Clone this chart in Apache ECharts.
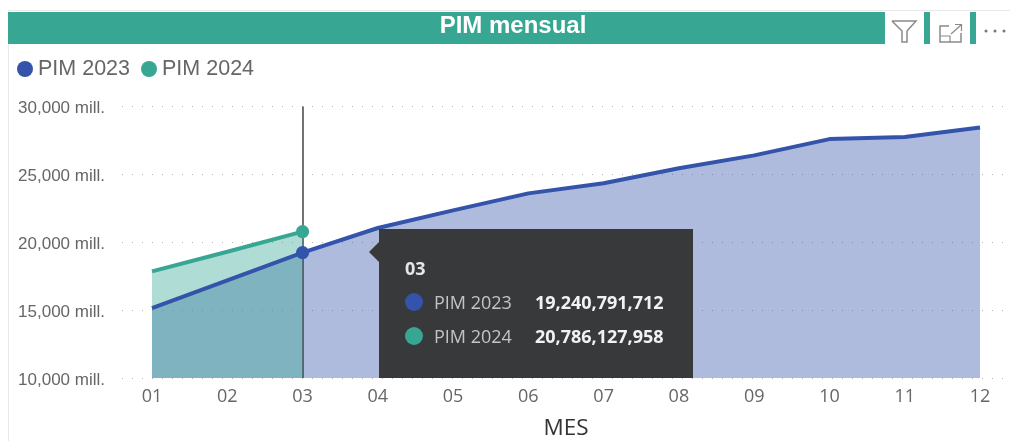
<!DOCTYPE html>
<html lang="en">

<head>
    <meta charset="UTF-8">
    <title>PIM mensual</title>
    <script src="https://cdn.jsdelivr.net/npm/echarts@6/dist/echarts.min.js"></script>
    <style>
        html, body { margin: 0; padding: 0; background: #fff; }
        #myCharts { width: 1010px; height: 441px; }
    </style>
</head>

<body>
    <div id="myCharts"></div>

    <script type="text/javascript">
        var meses = ['01', '02', '03', '04', '05', '06', '07', '08', '09', '10', '11', '12']
        var pim2023 = [15150000000, 17200000000, 19240791712, 21050000000, 22350000000, 23600000000,
            24350000000, 25450000000, 26400000000, 27600000000, 27750000000, 28450000000]
        var pim2024 = [17850000000, 19300000000, 20786127958]
        var yTicks = { min: 10000000000, max: 30000000000, interval: 5000000000 }
        var tipIndex = 2

        var azul = '#3454ab'
        var verde = '#37a794'
        var gris = '#666666'
        var sans = '"Liberation Sans", Arial, sans-serif'
        var open = '"Open Sans", sans-serif'

        function fmt(v) {
            return v.toLocaleString('en-US')
        }

        function tipRow(color, name, value) {
            return '<div style="display:flex;align-items:center;height:34px;">'
                + '<span style="width:18px;height:18px;border-radius:50%;background:' + color + ';"></span>'
                + '<span style="margin-left:11px;width:101px;color:#c4c4c4;">' + name + '</span>'
                + '<span style="font-weight:700;color:#f2f2f2;">' + fmt(value) + '</span></div>'
        }

        var myChart = echarts.init(document.getElementById('myCharts'), null, { renderer: 'canvas' })

        var option = {
            animation: false,
            backgroundColor: '#ffffff',
            title: {
                text: 'PIM mensual',
                left: 508,
                top: 9,
                textAlign: 'center',
                textStyle: { color: '#fff', fontFamily: sans, fontWeight: 'bold', fontSize: 24 },
            },
            legend: {
                data: ['PIM 2023', 'PIM 2024'],
                icon: 'circle',
                left: 17,
                top: 58,
                itemWidth: 16,
                itemHeight: 16,
                itemGap: 11,
                padding: 0,
                textStyle: { color: gris, fontFamily: sans, fontSize: 21.5 },
            },
            // grid[0] only carries the dotted lines, they run wider than the plot
            grid: [
                { left: 122, right: 5, top: 106.5, bottom: 63, outerBoundsMode: 'none' },
                { left: 152, right: 30, top: 106.5, bottom: 63, outerBoundsMode: 'none' },
            ],
            tooltip: {
                trigger: 'axis',
                alwaysShowContent: true,
                padding: 0,
                borderWidth: 0,
                backgroundColor: 'transparent',
                transitionDuration: 0,
                extraCssText: 'box-shadow:none;',
                position: [369, 229],
                formatter: function () {
                    return '<div style="position:relative;margin-left:10px;width:314px;height:149px;background:#38393b;'
                        + 'font-family:' + open.replace(/"/g, "'") + ';font-size:18px;line-height:22px;box-sizing:border-box;padding:28px 0 0 26px;">'
                        + '<div style="position:absolute;left:-10px;top:13px;width:0;height:0;border-top:10px solid transparent;'
                        + 'border-bottom:10px solid transparent;border-right:10px solid #38393b;"></div>'
                        + '<div style="font-weight:700;color:#e6e6e6;height:28px;">' + meses[tipIndex] + '</div>'
                        + tipRow(azul, 'PIM 2023', pim2023[tipIndex])
                        + tipRow(verde, 'PIM 2024', pim2024[tipIndex])
                        + '</div>'
                },
            },
            xAxis: [
                {
                    gridIndex: 0,
                    type: 'category',
                    show: false,
                    data: meses,
                    axisPointer: { show: false },
                },
                {
                    gridIndex: 1,
                    type: 'category',
                    boundaryGap: false,
                    data: meses,
                    name: 'MES',
                    nameLocation: 'middle',
                    nameGap: 39,
                    nameTextStyle: { color: '#333', fontFamily: open, fontSize: 22.5 },
                    axisLine: { show: false },
                    axisTick: { show: false },
                    axisLabel: { color: gris, fontFamily: open, fontSize: 18, margin: 10, interval: 0 },
                    splitLine: { show: false },
                    axisPointer: {
                        show: true,
                        type: 'line',
                        snap: true,
                        z: 1.5,
                        label: { show: false },
                        lineStyle: { color: '#444', width: 1.5, type: 'solid' },
                    },
                },
            ],
            yAxis: [
                {
                    gridIndex: 0,
                    type: 'value',
                    min: yTicks.min,
                    max: yTicks.max,
                    interval: yTicks.interval,
                    axisLine: { show: false },
                    axisTick: { show: false },
                    axisLabel: {
                        color: gris,
                        fontFamily: sans,
                        fontSize: 17,
                        margin: 17,
                        verticalAlign: 'top',
                        lineHeight: 4,
                        formatter: function (v) {
                            return fmt(v / 1000000) + ' mill.'
                        },
                    },
                    splitLine: { show: true, lineStyle: { color: '#b5b5b5', width: 1, type: [1, 9] } },
                },
                {
                    gridIndex: 1,
                    type: 'value',
                    show: false,
                    min: yTicks.min,
                    max: yTicks.max,
                    interval: yTicks.interval,
                    splitLine: { show: false },
                },
            ],
            series: [
                // the 2023 fill sits under the 2024 one, its line stays on top of both
                {
                    name: 'PIM 2023',
                    type: 'line',
                    xAxisIndex: 1,
                    yAxisIndex: 1,
                    data: pim2023,
                    showSymbol: false,
                    itemStyle: { color: azul },
                    lineStyle: { width: 0 },
                    areaStyle: { color: azul, opacity: 0.4 },
                    emphasis: { disabled: true },
                    z: 1,
                },
                {
                    name: 'PIM 2024',
                    type: 'line',
                    xAxisIndex: 1,
                    yAxisIndex: 1,
                    data: pim2024,
                    showAllSymbol: true,
                    symbol: 'circle',
                    symbolSize: function (v, p) { return p.dataIndex === tipIndex ? 12 : 0 },
                    itemStyle: { color: verde },
                    lineStyle: { color: verde, width: 4 },
                    areaStyle: { color: verde, opacity: 0.4 },
                    emphasis: { disabled: true },
                    z: 2,
                },
                {
                    name: 'PIM 2023',
                    type: 'line',
                    xAxisIndex: 1,
                    yAxisIndex: 1,
                    data: pim2023,
                    showAllSymbol: true,
                    symbol: 'circle',
                    symbolSize: function (v, p) { return p.dataIndex === tipIndex ? 12 : 0 },
                    itemStyle: { color: azul },
                    lineStyle: { color: azul, width: 4 },
                    emphasis: { disabled: true },
                    z: 3,
                },
            ],
            graphic: [
                // header strip and the visual's toolbar
                { type: 'rect', z: -1, shape: { x: 8, y: 10, width: 1002, height: 1 }, style: { fill: '#e8e8e8' } },
                { type: 'rect', z: -1, shape: { x: 8, y: 10, width: 1, height: 431 }, style: { fill: '#e8e8e8' } },
                { type: 'rect', z: -1, shape: { x: 8, y: 12, width: 877, height: 32 }, style: { fill: verde } },
                { type: 'rect', z: -1, shape: { x: 924, y: 12, width: 6, height: 32 }, style: { fill: verde } },
                { type: 'rect', z: -1, shape: { x: 970, y: 12, width: 6, height: 32 }, style: { fill: verde } },
                {
                    type: 'polyline',
                    shape: { points: [[892, 21], [916, 21], [907, 31], [907, 42], [902, 42], [902, 31], [892, 21]] },
                    style: { fill: 'none', stroke: '#8a8a8a', lineWidth: 1.5 },
                },
                {
                    type: 'polyline',
                    shape: { points: [[949, 26], [940, 26], [940, 42], [961, 42], [961, 33]] },
                    style: { fill: 'none', stroke: '#8a8a8a', lineWidth: 1.5 },
                },
                {
                    type: 'polyline',
                    shape: { points: [[940, 36], [950, 36], [950, 42]] },
                    style: { fill: 'none', stroke: '#8a8a8a', lineWidth: 1.2 },
                },
                {
                    type: 'polyline',
                    shape: { points: [[951, 34], [961, 25]] },
                    style: { fill: 'none', stroke: '#8a8a8a', lineWidth: 1.2 },
                },
                {
                    type: 'polyline',
                    shape: { points: [[955, 24.5], [961.5, 24.5], [961.5, 31]] },
                    style: { fill: 'none', stroke: '#8a8a8a', lineWidth: 1.2 },
                },
                { type: 'circle', shape: { cx: 986, cy: 31, r: 1.5 }, style: { fill: '#777' } },
                { type: 'circle', shape: { cx: 995, cy: 31, r: 1.5 }, style: { fill: '#777' } },
                { type: 'circle', shape: { cx: 1004, cy: 31, r: 1.5 }, style: { fill: '#777' } },
            ],
        }

        myChart.setOption(option)
        myChart.dispatchAction({ type: 'showTip', seriesIndex: 2, dataIndex: tipIndex })
    </script>
</body>

</html>
